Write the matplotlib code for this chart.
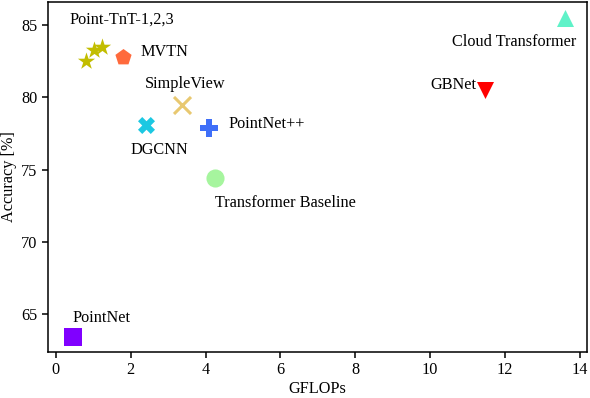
import matplotlib
matplotlib.use("Agg")
import matplotlib.pyplot as plt

plt.rcParams["font.family"] = ["Liberation Serif", "DejaVu Serif"]
plt.rcParams["font.size"] = 11.7
plt.rcParams["axes.linewidth"] = 1.1

# model, GFLOPs, accuracy
names = ["PointNet", "Point-TnT-1", "Point-TnT-2", "Point-TnT-3", "MVTN",
         "DGCNN", "SimpleView", "PointNet++", "Transformer Baseline",
         "GBNet", "Cloud Transformer"]
gflops = [0.45, 0.80, 1.02, 1.22, 1.78, 2.42, 3.36, 4.09, 4.25, 11.47, 13.59]
acc = [63.4, 82.5, 83.3, 83.5, 82.8, 78.1, 79.5, 77.9, 74.4, 80.5, 85.5]
markers = ["s", "*", "*", "*", "p", "X", "x", "P", "o", "v", "^"]
colors = ["#8000ff", "#c2bd00", "#c2bd00", "#c2bd00", "#ff6a3c", "#1cc8e2",
          "#e8c870", "#3f6ff8", "#a6f59e", "#ff0000", "#5ff2c8"]
sizes = [150, 170, 170, 170, 150, 150, 150, 150, 170, 150, 150]

# text labels: string, x, y
labels = ["PointNet", "Point-TnT-1,2,3", "MVTN", "DGCNN", "SimpleView",
          "PointNet++", "Transformer Baseline", "GBNet", "Cloud Transformer"]
label_x = [0.45, 0.37, 2.25, 2.0, 2.38, 4.6, 4.25, 10.0, 10.59]
label_y = [64.74, 85.4, 83.13, 76.35, 80.9, 78.15, 72.7, 80.85, 83.82]

fig = plt.figure(figsize=(5.9, 3.98), dpi=100)
ax = fig.add_axes([0.0814, 0.1156, 0.9135, 0.8794])

for x, y, m, c, s in zip(gflops, acc, markers, colors, sizes):
    lw = 2.2 if m == "x" else 0
    ax.scatter(x, y, marker=m, color=c, s=s, linewidths=lw)

for t, x, y in zip(labels, label_x, label_y):
    ax.text(x, y, t, ha="left", va="center")

ax.set_xlim(-0.21, 14.19)
ax.set_ylim(62.39, 86.59)
ax.set_xticks([0, 2, 4, 6, 8, 10, 12, 14])
ax.set_yticks([65, 70, 75, 80, 85])
ax.tick_params(width=1.1, length=4)
ax.set_xlabel("GFLOPs", labelpad=2)
ax.set_ylabel("Accuracy [%]", labelpad=3)

fig.savefig("out.png", dpi=100)
